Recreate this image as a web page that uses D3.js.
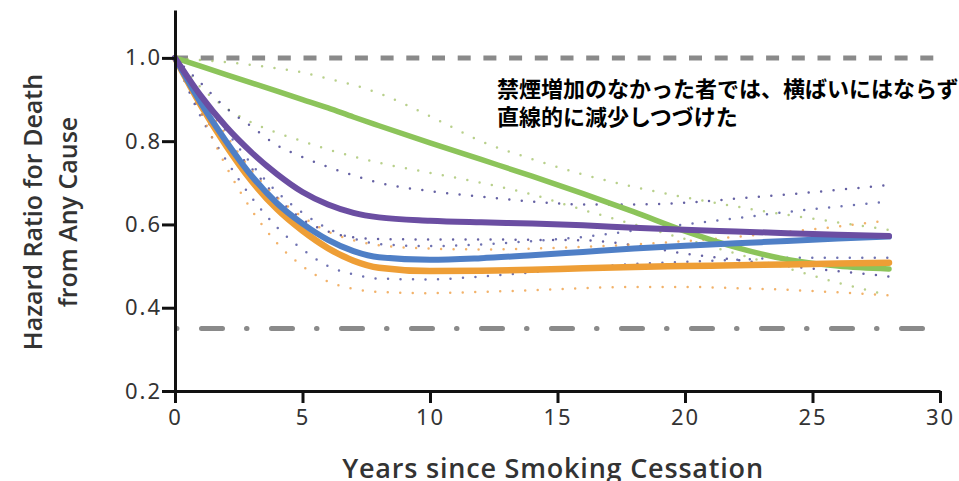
<!DOCTYPE html>
<html>
  <head>
    <meta charset="utf-8">
    <title>Hazard ratio after smoking cessation</title>
    <script src="https://d3js.org/d3.v7.min.js"></script>
    <style>
      body { margin: 0; background: #fff; }
    </style>
  </head>
  <body>
    <script>
      // years since cessation (x values shared by every series)
      const years = [0, 1, 2, 3, 4, 5, 6, 7, 8, 10, 12, 14, 16, 18, 20, 22, 24, 26, 28];

      // solid curves
      const green  = [1.0, 0.98, 0.96, 0.94, 0.92, 0.90, 0.88, 0.858, 0.837, 0.796, 0.756, 0.716, 0.674, 0.63, 0.584, 0.545, 0.516, 0.50, 0.493];
      const purple = [1.0, 0.91, 0.835, 0.773, 0.721, 0.678, 0.648, 0.628, 0.617, 0.609, 0.605, 0.602, 0.598, 0.592, 0.587, 0.583, 0.579, 0.575, 0.572];
      const blue   = [1.0, 0.893, 0.80, 0.717, 0.651, 0.602, 0.563, 0.536, 0.521, 0.515, 0.519, 0.526, 0.534, 0.542, 0.549, 0.555, 0.56, 0.566, 0.571];
      const orange = [1.0, 0.888, 0.79, 0.705, 0.637, 0.585, 0.543, 0.513, 0.496, 0.488, 0.489, 0.491, 0.495, 0.498, 0.50, 0.502, 0.504, 0.506, 0.508];

      // dotted confidence bands
      const greenHi  = [1.0, 0.995, 0.99, 0.983, 0.975, 0.965, 0.95, 0.935, 0.915, 0.86, 0.80, 0.757, 0.72, 0.69, 0.665, 0.643, 0.623, 0.605, 0.587];
      const greenLo  = [1.0, 0.93, 0.88, 0.845, 0.82, 0.80, 0.78, 0.763, 0.748, 0.724, 0.70, 0.672, 0.635, 0.60, 0.565, 0.53, 0.495, 0.46, 0.43];
      const purpleHi = [1.0, 0.94, 0.88, 0.835, 0.79, 0.762, 0.738, 0.718, 0.70, 0.68, 0.667, 0.655, 0.648, 0.648, 0.652, 0.662, 0.672, 0.683, 0.695];
      const purpleLo = [1.0, 0.87, 0.80, 0.735, 0.665, 0.612, 0.583, 0.569, 0.565, 0.564, 0.564, 0.563, 0.562, 0.55, 0.53, 0.515, 0.50, 0.488, 0.475];
      const blueHi   = [1.0, 0.905, 0.825, 0.745, 0.678, 0.628, 0.59, 0.566, 0.553, 0.548, 0.552, 0.56, 0.57, 0.585, 0.60, 0.615, 0.63, 0.643, 0.655];
      const blueLo   = [1.0, 0.86, 0.755, 0.665, 0.593, 0.54, 0.50, 0.48, 0.47, 0.468, 0.475, 0.485, 0.495, 0.505, 0.51, 0.515, 0.52, 0.52, 0.52];
      const orangeHi = [1.0, 0.905, 0.815, 0.73, 0.665, 0.618, 0.583, 0.562, 0.55, 0.542, 0.54, 0.542, 0.546, 0.552, 0.56, 0.57, 0.582, 0.595, 0.61];
      const orangeLo = [1.0, 0.87, 0.74, 0.635, 0.555, 0.50, 0.463, 0.445, 0.438, 0.435, 0.438, 0.442, 0.447, 0.45, 0.45, 0.447, 0.443, 0.437, 0.43];

      // reference lines
      const refTop = 1.0;
      const refLow = 0.35;
      const refEnd = 29.7;

      const xTicks = [0, 5, 10, 15, 20, 25, 30];
      const yTicks = [0.2, 0.4, 0.6, 0.8, 1.0];

      const note = ['禁煙増加のなかった者では、横ばいにはならず', '直線的に減少しつづけた'];

      let width = 959, height = 481;

      let svg = d3.select('body').append('svg')
                  .attr('width', width)
                  .attr('height', height)
                  .style('font-family', "'Noto Sans', sans-serif");

      let x = d3.scaleLinear().domain([0, 30]).range([175, 940]);
      let y = d3.scaleLinear().domain([0.2, 1.115]).range([391, 10]);

      let line = d3.line()
                   .x((d, i) => x(years[i]))
                   .y(d => y(d))
                   .curve(d3.curveMonotoneX);

      // reference lines
      svg.append('line')
         .attr('x1', x(0)).attr('x2', x(refEnd) + 2)
         .attr('y1', y(refTop)).attr('y2', y(refTop))
         .attr('stroke', '#8a8a8a').attr('stroke-width', 5)
         .attr('stroke-dasharray', '13 12.7');

      svg.append('line')
         .attr('x1', x(0) + 1.5).attr('x2', x(refEnd))
         .attr('y1', y(refLow)).attr('y2', y(refLow))
         .attr('stroke', '#8a8a8a').attr('stroke-width', 5)
         .attr('stroke-linecap', 'round')
         .attr('stroke-dasharray', '0.5 24.5 21 24');

      // dotted bands
      const bands = [
        [greenHi, '#a6c46e'], [greenLo, '#a6c46e'],
        [purpleHi, '#3f3a8c'], [purpleLo, '#3f3a8c'],
        [blueHi, '#4b4f9e'], [blueLo, '#4b4f9e'],
        [orangeHi, '#ef9f45'], [orangeLo, '#ef9f45']
      ];
      svg.append('g').selectAll('path').data(bands)
         .enter().append('path')
         .attr('d', d => line(d[0]))
         .attr('fill', 'none')
         .attr('stroke', d => d[1])
         .attr('stroke-width', 2.5)
         .attr('stroke-linecap', 'round')
         .attr('stroke-dasharray', '0 12.5')
         .attr('opacity', 0.8);

      // solid curves
      const solids = [
        [green, '#8cc45a', 5.5],
        [orange, '#ee9e36', 6.5],
        [blue, '#4f7fc6', 6],
        [purple, '#6b4ea2', 6]
      ];
      svg.append('g').selectAll('path').data(solids)
         .enter().append('path')
         .attr('d', d => line(d[0]))
         .attr('fill', 'none')
         .attr('stroke', d => d[1])
         .attr('stroke-width', d => d[2])
         .attr('stroke-linecap', 'round');

      // axes
      let xAxis = svg.append('g')
                     .attr('transform', `translate(0, ${y(0.2)})`)
                     .call(d3.axisBottom(x).tickValues(xTicks).tickSize(12).tickSizeOuter(0).tickPadding(6));
      let yAxis = svg.append('g')
                     .attr('transform', `translate(${x(0)}, 0)`)
                     .call(d3.axisLeft(y).tickValues(yTicks).tickFormat(d3.format('.1f')).tickSize(13).tickSizeOuter(0).tickPadding(0));

      [xAxis, yAxis].forEach(a => {
        a.select('.domain').attr('stroke', '#111').attr('stroke-width', 3);
        a.selectAll('.tick line').attr('stroke', '#111').attr('stroke-width', 3);
        a.selectAll('.tick text')
         .attr('fill', '#333')
         .style('font-family', "'Noto Sans', sans-serif")
         .style('font-size', '22px')
         .style('letter-spacing', '2px');
      });

      // axis titles
      const yTitle = ['Hazard Ratio for Death', 'from Any Cause'];
      svg.append('g').selectAll('text').data(yTitle)
         .enter().append('text')
         .attr('transform', (d, i) => `translate(${42 + i * 35}, 212) rotate(-90)`)
         .attr('text-anchor', 'middle')
         .attr('fill', '#333')
         .style('font-family', "'Open Sans', sans-serif")
         .style('font-weight', 600)
         .style('font-size', '25px')
         .text(d => d);

      svg.append('text')
         .attr('x', 553).attr('y', 478)
         .attr('text-anchor', 'middle')
         .attr('fill', '#333')
         .style('font-family', "'Open Sans', sans-serif")
         .style('font-weight', 600)
         .style('font-size', '27px')
         .style('letter-spacing', '0.8px')
         .text('Years since Smoking Cessation');

      // annotation (one text block, two lines)
      svg.append('text')
         .attr('x', 497)
         .attr('y', 97)
         .attr('fill', '#000')
         .style('font-family', "'Noto Sans CJK JP', sans-serif")
         .style('font-weight', 700)
         .style('font-size', '22px')
         .selectAll('tspan').data(note)
         .enter().append('tspan')
         .attr('x', 497)
         .attr('dy', (d, i) => i === 0 ? 0 : 28)
         .text(d => d);
    </script>
  </body>
</html>
